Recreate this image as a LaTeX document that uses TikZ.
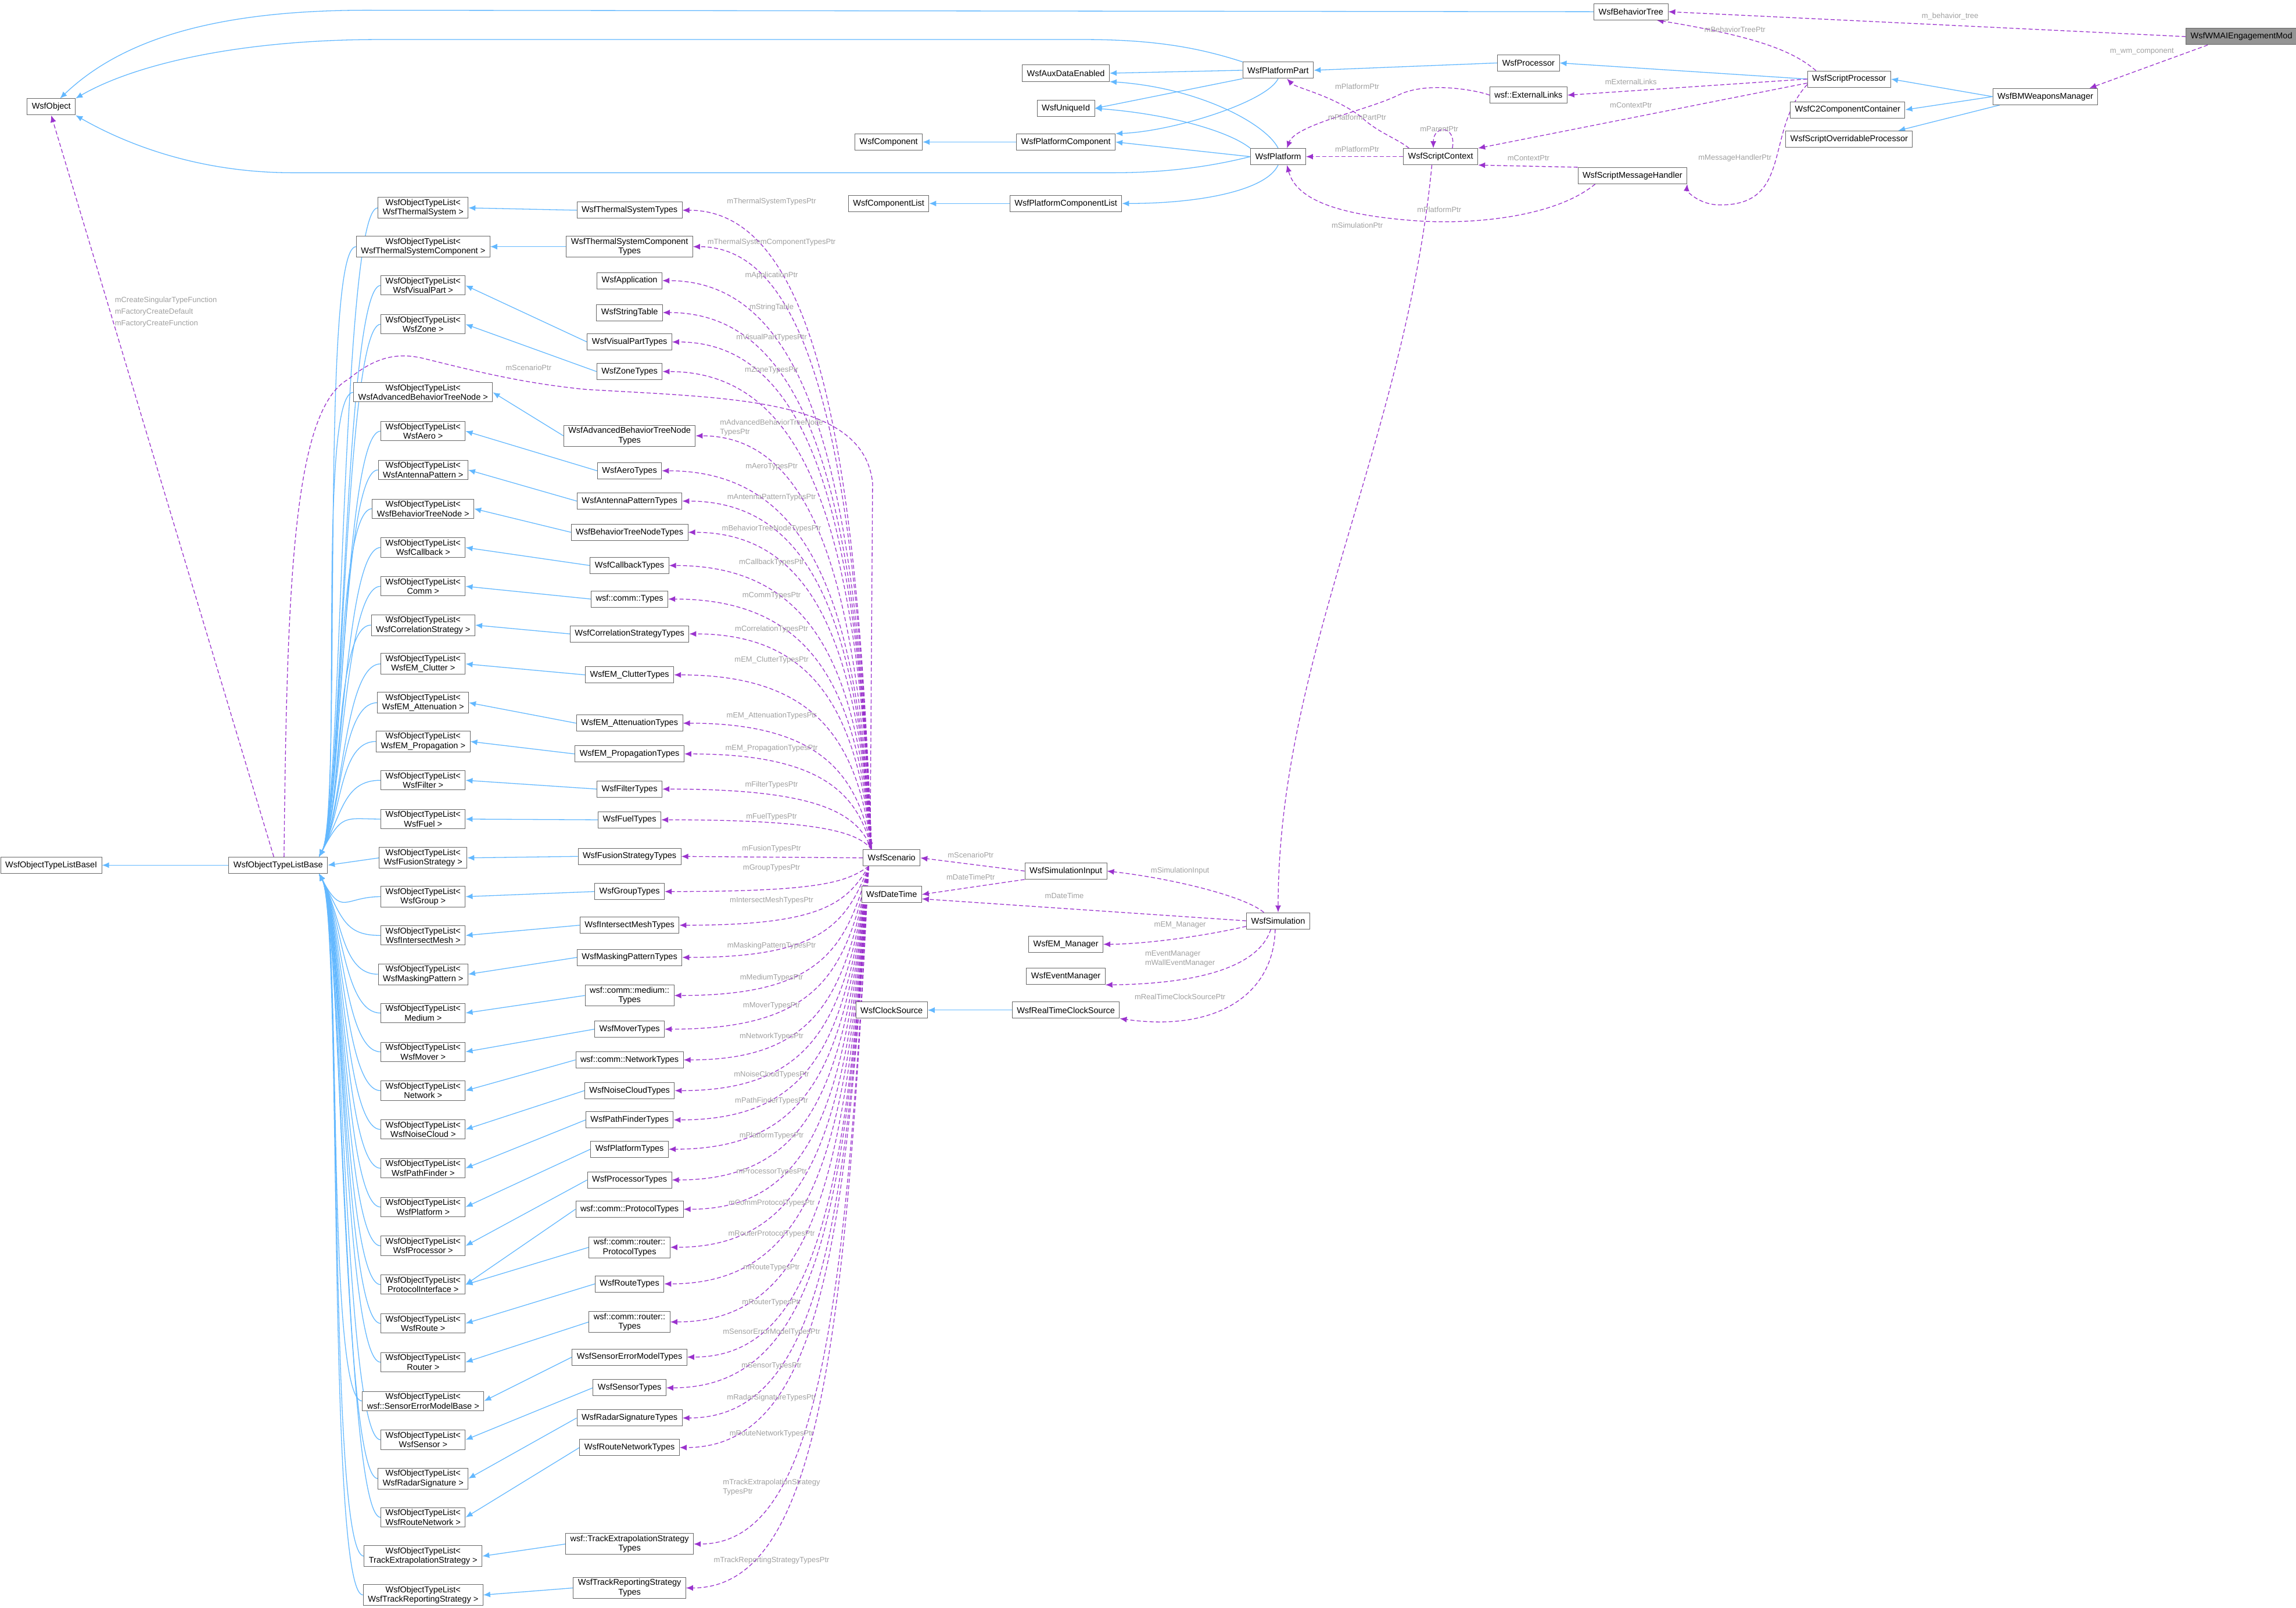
\documentclass[tikz,border=0pt]{standalone}
\usepackage{fontspec}
\setmainfont{Liberation Sans}
\usetikzlibrary{arrows.meta,calc}
\definecolor{inhc}{HTML}{63B8FF}
\definecolor{usec}{HTML}{9A32CD}
\definecolor{lblc}{HTML}{A0A0A0}
\pgfdeclarelayer{bg}
\pgfsetlayers{bg,main}
\begin{document}
\begin{tikzpicture}[x=2.52pt,y=-2.52pt,
 box/.style={draw=black!60,fill=white,line width=1pt,inner xsep=8pt,inner ysep=3pt,minimum height=28pt,font=\fontsize{14.5}{16.5}\selectfont,align=center},
 root/.style={box,fill=black!42},
 lbl/.style={text=lblc,font=\fontsize{13}{16}\selectfont,inner sep=1pt},
 inh/.style={draw=inhc,line width=1.3pt,-{Latex[length=12pt,width=10pt]}},
 use/.style={draw=usec,line width=1.3pt,dash pattern=on 7pt off 4pt,-{Latex[length=12pt,width=10pt]}}]
\useasboundingbox (0,0) rectangle (1568.25,1098.4);

% ---------- top nodes
\node[box] (bt) at (1114,8) {WsfBehaviorTree};
\node[root] (wmai) at (1531,25) {WsfWMAIEngagementMod};
\node[box] (obj) at (35,73) {WsfObject};
\node[box] (pp) at (873,48) {WsfPlatformPart};
\node[box] (aux) at (728,50) {WsfAuxDataEnabled};
\node[box] (proc) at (1044,43) {WsfProcessor};
\node[box] (sp) at (1263,54) {WsfScriptProcessor};
\node[box] (el) at (1044,65) {wsf::ExternalLinks};
\node[box] (uid) at (728,74) {WsfUniqueId};
\node[box] (bm) at (1397,66) {WsfBMWeaponsManager};
\node[box] (c2) at (1262,75) {WsfC2ComponentContainer};
\node[box] (sop) at (1263,95) {WsfScriptOverridableProcessor};
\node[box] (comp) at (607,97) {WsfComponent};
\node[box] (pc) at (728,97) {WsfPlatformComponent};
\node[box] (pl) at (873,107) {WsfPlatform};
\node[box] (sc) at (984,107) {WsfScriptContext};
\node[box] (smh) at (1115,120) {WsfScriptMessageHandler};
\node[box] (cl) at (607,139) {WsfComponentList};
\node[box] (pcl) at (728,139) {WsfPlatformComponentList};
\node[box] (base) at (190,591) {WsfObjectTypeListBase};
\node[box] (basei) at (35,591) {WsfObjectTypeListBaseI};
% ---------- bottom right nodes
\node[box] (scen) at (609,586) {WsfScenario};
\node[box] (si) at (728,595) {WsfSimulationInput};
\node[box] (dt) at (609,611) {WsfDateTime};
\node[box] (sim) at (873,629) {WsfSimulation};
\node[box] (em) at (728,645) {WsfEM\_Manager};
\node[box] (ev) at (728,667) {WsfEventManager};
\node[box] (cs) at (609,690) {WsfClockSource};
\node[box] (rtcs) at (728,690) {WsfRealTimeClockSource};

% ---------- lists
\foreach \i/\y/\t in {1/142/WsfThermalSystem,2/168.5/WsfThermalSystemComponent,3/195/WsfVisualPart,4/221.5/WsfZone,
5/268/WsfAdvancedBehaviorTreeNode,6/294.5/WsfAero,7/321/WsfAntennaPattern,8/347.5/WsfBehaviorTreeNode,
9/374/WsfCallback,10/400.5/Comm,11/427/WsfCorrelationStrategy,12/453.5/WsfEM\_Clutter,13/480/WsfEM\_Attenuation,
14/506.5/WsfEM\_Propagation,15/533/WsfFilter,16/559.5/WsfFuel,17/586/WsfFusionStrategy,18/612.5/WsfGroup,
19/639/WsfIntersectMesh,20/665.5/WsfMaskingPattern,21/692/Medium,22/718.5/WsfMover,23/745/Network,
24/771.5/WsfNoiseCloud,25/798/WsfPathFinder,26/824.5/WsfPlatform,27/851/WsfProcessor,28/877.5/ProtocolInterface,
29/904/WsfRoute,30/930.5/Router,31/957/wsf::SensorErrorModelBase,32/983.5/WsfSensor,33/1010/WsfRadarSignature,
34/1036.5/WsfRouteNetwork,35/1063/TrackExtrapolationStrategy,36/1089.5/WsfTrackReportingStrategy}
{\node[box] (L\i) at (289,\y) {WsfObjectTypeList<\\\t\ >};}

\begin{pgfonlayer}{bg}
% ---------- lists -> base
\foreach \i in {1,...,16}{
 \draw[inh] (L\i.west) .. controls ($(L\i.west)+(-25,0)$) and ($(base.north east)+(10,-30)$) .. ($(base.north east)+(-6,0)$);}
\foreach \i in {18,...,36}{
 \draw[inh] (L\i.west) .. controls ($(L\i.west)+(-25,0)$) and ($(base.south east)+(10,30)$) .. ($(base.south east)+(-6,0)$);}
\draw[inh] (L17.west) -- (base.east);
\draw[inh] (base.west) -- (basei.east);
\end{pgfonlayer}

% ---------- types (upper: arrows leave the top of WsfScenario)
\foreach \i/\y/\t/\l/\ly/\tg in {
1/143.6/WsfThermalSystemTypes/mThermalSystemTypesPtr/137.9/1,
2/168.5/{WsfThermalSystemComponent\\Types}/mThermalSystemComponentTypesPtr/165.4/2,
3/191.7/WsfApplication/mApplicationPtr/188.2/0,
4/213.5/WsfStringTable/mStringTable/210/0,
5/233.6/WsfVisualPartTypes/mVisualPartTypesPtr/230.8/3,
6/253.8/WsfZoneTypes/mZoneTypesPtr/253/4,
7/297.7/{WsfAdvancedBehaviorTreeNode\\Types}/{mAdvancedBehaviorTreeNode\\TypesPtr}/292/5,
8/321.6/WsfAeroTypes/mAeroTypesPtr/318.6/6,
9/342.3/WsfAntennaPatternTypes/mAntennaPatternTypesPtr/339.7/7,
10/363.6/WsfBehaviorTreeNodeTypes/mBehaviorTreeNodeTypesPtr/361/8,
11/386.3/WsfCallbackTypes/mCallbackTypesPtr/384/9,
12/409.2/wsf::comm::Types/mCommTypesPtr/406.8/10,
13/433/WsfCorrelationStrategyTypes/mCorrelationTypesPtr/430/11,
14/461/WsfEM\_ClutterTypes/mEM\_ClutterTypesPtr/451/12,
15/494/WsfEM\_AttenuationTypes/mEM\_AttenuationTypesPtr/489/13,
16/515/WsfEM\_PropagationTypes/mEM\_PropagationTypesPtr/511/14,
17/539/WsfFilterTypes/mFilterTypesPtr/536/15,
18/560/WsfFuelTypes/mFuelTypesPtr/558/16}
{
 \node[box] (T\i) at (430,\y) {\t};
 \node[lbl,align=left] (TL\i) at (527,\ly) {\l};
 \pgfmathsetmacro{\cy}{\y+0.4*(581-\y)}
 \begin{pgfonlayer}{bg}
 \draw[use] ($(scen.north west)+(6,0)$) .. controls (586,\cy) and (560,\y) .. (T\i.east);
 \ifnum\tg>0 \draw[inh] (T\i.west) -- (L\tg.east);\fi
 \end{pgfonlayer}
}
% fusion
\node[box] (T19) at (430,585) {WsfFusionStrategyTypes};
\node[lbl] (TL19) at (527,580) {mFusionTypesPtr};
\begin{pgfonlayer}{bg}
\draw[use] (scen.west) -- (T19.east);
\draw[inh] (T19.west) -- (L17.east);
\end{pgfonlayer}
% ---------- types (lower)
\foreach \i/\y/\t/\l/\ly/\tg in {
20/609/WsfGroupTypes/mGroupTypesPtr/593/18,
21/632/WsfIntersectMeshTypes/mIntersectMeshTypesPtr/615/19,
22/654/WsfMaskingPatternTypes/mMaskingPatternTypesPtr/646/20,
23/680/{wsf::comm::medium::\\Types}/mMediumTypesPtr/668/21,
24/703/WsfMoverTypes/mMoverTypesPtr/687/22,
25/724/wsf::comm::NetworkTypes/mNetworkTypesPtr/708/23,
26/745/WsfNoiseCloudTypes/mNoiseCloudTypesPtr/734/24,
27/765/WsfPathFinderTypes/mPathFinderTypesPtr/752/25,
28/785/WsfPlatformTypes/mPlatformTypesPtr/776/26,
29/806/WsfProcessorTypes/mProcessorTypesPtr/800.4/27,
30/826/wsf::comm::ProtocolTypes/mCommProtocolTypesPtr/822/28,
31/852/{wsf::comm::router::\\ProtocolTypes}/mRouterProtocolTypesPtr/843/28,
32/877/WsfRouteTypes/mRouteTypesPtr/866/29,
33/903/{wsf::comm::router::\\Types}/mRouterTypesPtr/890/30,
34/927/WsfSensorErrorModelTypes/mSensorErrorModelTypesPtr/910/31,
35/948/WsfSensorTypes/mSensorTypesPtr/933/32,
36/968.6/WsfRadarSignatureTypes/mRadarSignatureTypesPtr/954.7/33,
37/988.8/WsfRouteNetworkTypes/mRouteNetworkTypesPtr/979.6/34,
38/1054.7/{wsf::TrackExtrapolationStrategy\\Types}/{mTrackExtrapolationStrategy\\TypesPtr}/1016/35,
39/1084.7/{WsfTrackReportingStrategy\\Types}/mTrackReportingStrategyTypesPtr/1066/36}
{
 \node[box] (T\i) at (430,\y) {\t};
 \node[lbl,align=left] (TL\i) at (527,\ly) {\l};
 \pgfmathsetmacro{\cy}{\y-0.35*(\y-591)}
 \begin{pgfonlayer}{bg}
 \draw[use] ($(scen.south west)+(4,0)$) .. controls (578,\cy) and (560,\y) .. (T\i.east);
 \draw[inh] (T\i.west) -- (L\tg.east);
 \end{pgfonlayer}
}

\begin{pgfonlayer}{bg}
% ---------- base <-> object, scenario
\draw[use] ($(base.north)+(-3,0)$) -- (obj.south);
\draw[use] ($(base.north)+(4,0)$) .. controls (196,400) and (200,280) .. (238,259) .. controls (255,245) and (270,240) .. (290,245) .. controls (330,255) and (360,262) .. (400,266) .. controls (500,272) and (590,272) .. (596,330) -- ($(scen.north west)+(5,0)$);

% ---------- top inheritance
\draw[inh] (bt.west) -- (250,7) .. controls (140,7) and (80,30) .. ($(obj.north)+(6,0)$);
\draw[inh] (pp.north west) .. controls (820,33) and (790,27) .. (740,27) -- (260,27) .. controls (160,27) and (90,45) .. (obj.north east);
\draw[inh] (pl.west) .. controls (830,113) and (800,118) .. (760,118) -- (200,118) .. controls (130,118) and (80,95) .. (obj.south east);
\draw[inh] (pp.west) -- (aux.east);
\draw[inh] (pp.south west) -- (uid.east);
\draw[inh] (pp.south) .. controls (865,70) and (800,90) .. (pc.north east);
\draw[inh] (pl.north) .. controls (865,85) and (820,60) .. (aux.south east);
\draw[inh] (pl.north west) .. controls (840,90) and (800,78) .. (uid.east);
\draw[inh] (pl.west) -- (pc.east);
\draw[inh] (pl.south) .. controls (865,130) and (820,139) .. (pcl.east);
\draw[inh] (pc.west) -- (comp.east);
\draw[inh] (pcl.west) -- (cl.east);
\draw[inh] (proc.west) -- (pp.east);
\draw[inh] (sp.west) -- (proc.east);
\draw[inh] (bm.west) -- (sp.east);
\draw[inh] (bm.west) -- (c2.east);
\draw[inh] ($(bm.south west)+(5,0)$) -- ($(sop.north east)+(-10,0)$);
\draw[inh] (rtcs.west) -- (cs.east);

% ---------- top usage
\draw[use] (wmai.west) -- (bt.east);
\draw[use] ($(wmai.south west)+(15,0)$) -- ($(bm.north east)+(-6,0)$);
\draw[use] ($(sp.north west)+(6,0)$) .. controls (1225,35) and (1200,25) .. ($(bt.south east)+(-8,0)$);
\draw[use] (sp.west) -- (el.east);
\draw[use] ($(sp.south west)+(0,-3)$) -- (sc.north east);
\draw[use] ($(sp.south west)+(0,-2)$) .. controls (1205,90) and (1225,140) .. (1175,140) .. controls (1160,140) and (1152,130) .. (smh.south east);
\draw[use] (el.west) .. controls (1010,62) and (975,55) .. (955,65) .. controls (935,75) and (885,85) .. ($(pl.north)+(6,0)$);
\draw[use] ($(sc.north west)+(4,0)$) .. controls (955,95) and (940,90) .. (930,80) .. controls (910,65) and (885,60) .. ($(pp.south)+(6,0)$);
\draw[use] ($(sc.north)+(8,0)$) .. controls +(3,-16) and +(0,-16) .. ($(sc.north)+(-5,0)$);
\draw[use] (sc.west) -- (pl.east);
\draw[use] (smh.north west) -- (sc.south east);
\draw[use] ($(smh.south west)+(12,0)$) .. controls (1060,150) and (1000,153) .. (970,151) .. controls (910,147) and (885,135) .. ($(pl.south)+(6,0)$);
\draw[use] ($(sc.south)+(-6,0)$) .. controls (960,300) and (873,450) .. (sim.north);

% ---------- bottom usage
\draw[use] (si.west) -- (scen.east);
\draw[use] (si.south west) -- (dt.east);
\draw[use] ($(sim.north west)+(12,0)$) .. controls (850,612) and (800,600) .. (si.east);
\draw[use] (sim.west) -- ($(dt.east)+(0,3)$);
\draw[use] ($(sim.south west)+(0,-2)$) .. controls (820,640) and (780,645) .. (em.east);
\draw[use] ($(sim.south)+(-5,0)$) .. controls (860,660) and (820,672) .. (ev.south east);
\draw[use] ($(sim.south)+(-2,0)$) .. controls (870,680) and (830,705) .. (rtcs.south east);
\end{pgfonlayer}

% ---------- labels
\node[lbl,anchor=west,align=left,font=\fontsize{13}{20}\selectfont] (lbo) at (78,213) {mCreateSingularTypeFunction\\mFactoryCreateDefault\\mFactoryCreateFunction};
\node[lbl] (lsp) at (361,251) {mScenarioPtr};
\node[lbl] (l1) at (1332,11) {m\_behavior\_tree};
\node[lbl] (l2) at (1463,35) {m\_wm\_component};
\node[lbl] (l3) at (1185,20) {mBehaviorTreePtr};
\node[lbl] (l4) at (1114,56) {mExternalLinks};
\node[lbl] (l5) at (1114,72) {mContextPtr};
\node[lbl] (l6) at (1185,108) {mMessageHandlerPtr};
\node[lbl] (l7) at (927,59) {mPlatformPtr};
\node[lbl] (l8) at (927,80) {mPlatformPartPtr};
\node[lbl] (l9) at (983,88) {mParentPtr};
\node[lbl] (l10) at (927,102) {mPlatformPtr};
\node[lbl] (l11) at (1044,108) {mContextPtr};
\node[lbl] (l12) at (983,143) {mPlatformPtr};
\node[lbl] (l13) at (927,154) {mSimulationPtr};
\node[lbl] (l14) at (663,584) {mScenarioPtr};
\node[lbl] (l15) at (663,599) {mDateTimePtr};
\node[lbl] (l16) at (806,595) {mSimulationInput};
\node[lbl] (l17) at (727,612) {mDateTime};
\node[lbl] (l18) at (806,632) {mEM\_Manager};
\node[lbl,align=left] (l19) at (806,655) {mEventManager\\mWallEventManager};
\node[lbl] (l20) at (806,681) {mRealTimeClockSourcePtr};
\end{tikzpicture}
\end{document}
